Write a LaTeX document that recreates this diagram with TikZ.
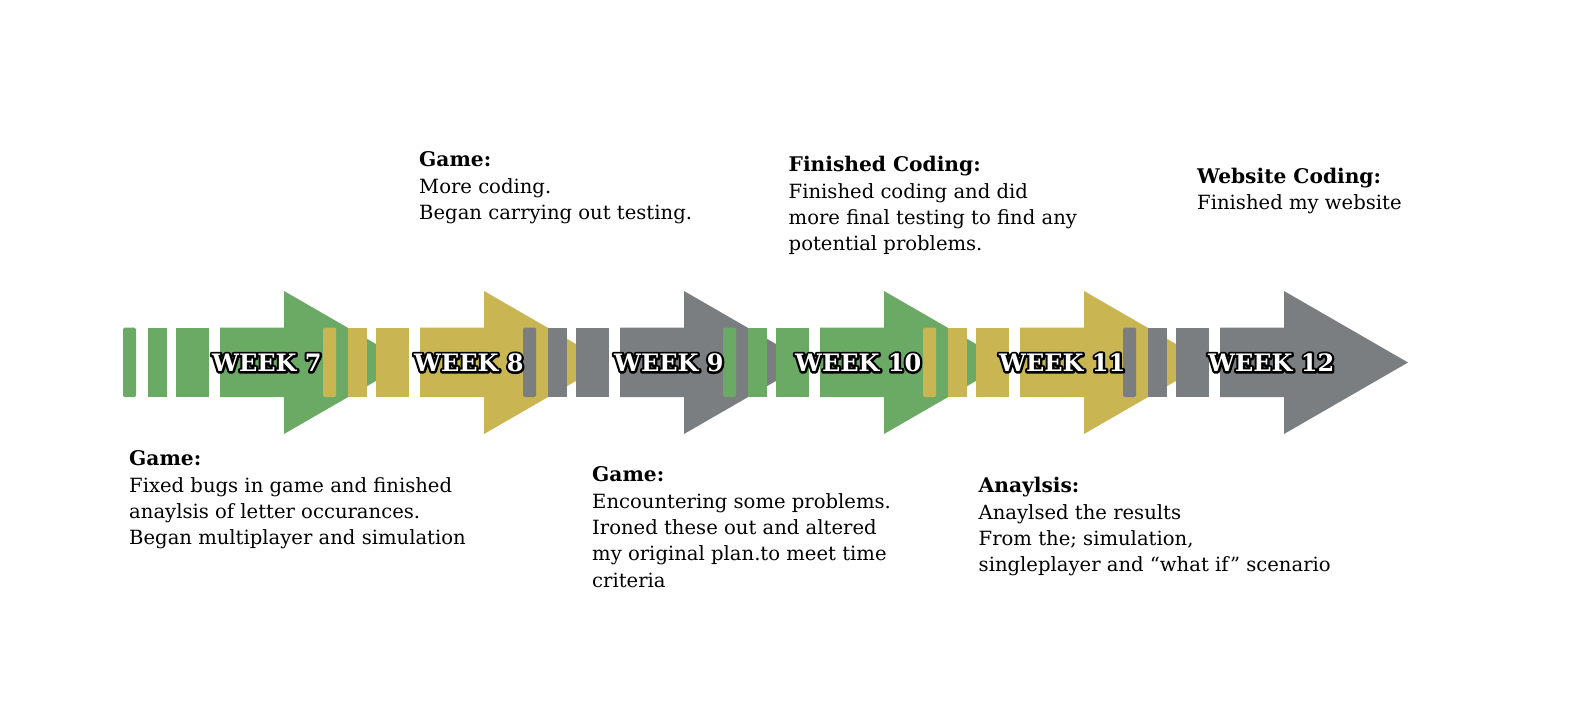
\documentclass[tikz,border=0pt]{standalone}
\usepackage{fontspec}
\setmainfont{DejaVu Serif}

\definecolor{wkgreen}{HTML}{6AAA64}
\definecolor{wkyellow}{HTML}{C9B652}
\definecolor{wkgray}{HTML}{7B7E81}

% one week of the timeline: three lead-in bars, then the block arrow
% #1 = left edge of the arrow body, #2 = colour
\newcommand\weekarrow[2]{%
  \begin{scope}[shift={(#1,0)}]
    \fill[#2, rounded corners=1.5pt] (-97,327.5) rectangle (-84,397);
    \fill[#2] (-72,327.5) rectangle (-53,397);
    \fill[#2] (-44,327.5) rectangle (-11,397);
    \fill[#2] (0,327.5) -- (64,327.5) -- (64,291) -- (188,362.5)
              -- (64,434) -- (64,397) -- (0,397) -- cycle;
  \end{scope}}

% white lettering with a black rim: a stroked pass under a filled pass
\newcommand\rimmed[1]{%
  \rlap{\special{pdf:literal direct 1 Tr 4.4 w 1 j 0 0 0 RG}#1%
        \special{pdf:literal direct 0 Tr}}#1}

% a heading followed by plain lines, first baseline at the anchor
\newcommand\noteblock[2]{\vtop{\fontsize{19.6pt}{26.4pt}\selectfont
  \baselineskip=26.4pt\lineskiplimit=-10pt
  \hbox{\fontsize{20.2pt}{26.4pt}\selectfont\bfseries #1}#2}}

\tikzset{
  weeklabel/.style={anchor=base west, inner sep=0pt, text=white,
    font=\fontsize{24pt}{26pt}\selectfont\bfseries},
  note/.style={anchor=base west, inner sep=0pt, text=black}
}

\begin{document}
\begin{tikzpicture}[x=1pt, y=-1pt]
  \useasboundingbox[fill=white] (0,0) rectangle (1583,725);

  % arrows, each drawn over the tip of the one before
  \weekarrow{220}{wkgreen}
  \weekarrow{420}{wkyellow}
  \weekarrow{620}{wkgray}
  \weekarrow{820}{wkgreen}
  \weekarrow{1020}{wkyellow}
  \weekarrow{1220}{wkgray}

  % week labels
  \node[weeklabel] (w7)  at (212,371.5)  {\rimmed{WEEK 7}};
  \node[weeklabel] (w8)  at (414,371.5)  {\rimmed{WEEK 8}};
  \node[weeklabel] (w9)  at (614,371.5)  {\rimmed{WEEK 9}};
  \node[weeklabel] (w10) at (795,371.5)  {\rimmed{WEEK 10}};
  \node[weeklabel] (w11) at (999,371.5)  {\rimmed{WEEK 11}};
  \node[weeklabel] (w12) at (1208,371.5) {\rimmed{WEEK 12}};

  % notes above and below the timeline
  \node[note] (n7) at (129,465.7) {\noteblock{Game:}{%
    \hbox{Fixed bugs in game and finished}
    \hbox{anaylsis of letter occurances.}
    \hbox{Began multiplayer and simulation}}};
  \node[note] (n8) at (419,166.7) {\noteblock{Game:}{%
    \hbox{More coding.}
    \hbox{Began carrying out testing.}}};
  \node[note] (n9) at (592,481.7) {\noteblock{Game:}{%
    \hbox{Encountering some problems.}
    \hbox{Ironed these out and altered}
    \hbox{my original plan.to meet time}
    \hbox{criteria}}};
  \node[note] (n10) at (788.5,171.7) {\noteblock{Finished Coding:}{%
    \hbox{Finished coding and did}
    \hbox{more final testing to find any}
    \hbox{potential problems.}}};
  \node[note] (n11) at (978.5,492.7) {\noteblock{Anaylsis:}{%
    \hbox{Anaylsed the results}
    \hbox{From the; simulation,}
    \hbox{singleplayer and “what if” scenario}}};
  \node[note] (n12) at (1197,183.3) {\noteblock{Website Coding:}{%
    \hbox{Finished my website}}};
\end{tikzpicture}
\end{document}
